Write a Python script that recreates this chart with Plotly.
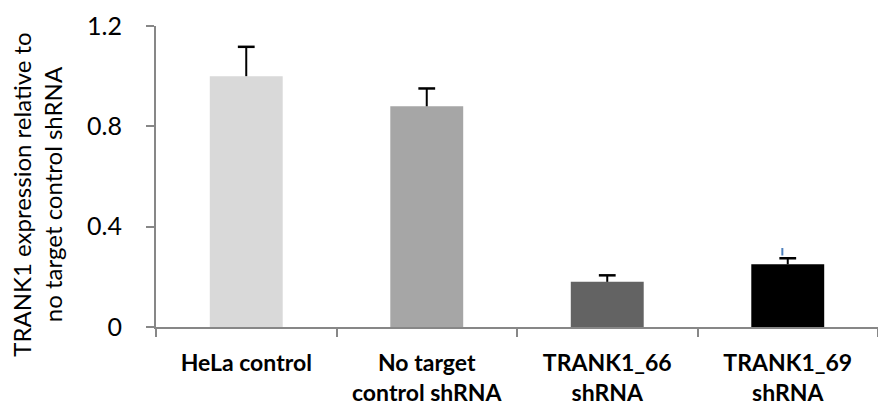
import plotly.graph_objects as go

categories = ["HeLa control", "No target<br>control shRNA", "TRANK1_66<br>shRNA", "TRANK1_69<br>shRNA"]
values = [1.0, 0.88, 0.18, 0.25]
errors_plus = [0.117, 0.071, 0.026, 0.024]
bar_colors = ["#D9D9D9", "#A6A6A6", "#636363", "#000000"]
y_ticks = [0, 0.4, 0.8, 1.2]
y_tick_labels = ["0", "0.4", "0.8", "1.2"]
y_title = "TRANK1 expression relative to<br>no target control shRNA"
# small stray blue mark above the last bar (category index, offset, y range)
stray_cat_index = 3
stray_offset = -0.03
stray_y = [0.285, 0.315]

cap_y = [v + e for v, e in zip(values, errors_plus)]

fig = go.Figure()
fig.add_trace(go.Bar(
    x=categories, y=values,
    marker=dict(color=bar_colors, line=dict(width=0)),
    error_y=dict(type="data", symmetric=False, array=errors_plus,
                 arrayminus=[0] * len(values), color="#000000",
                 thickness=2, width=0),
    hoverinfo="skip",
))
# caps of the plus-only error bars
fig.add_trace(go.Scatter(
    x=categories, y=cap_y, mode="markers",
    marker=dict(symbol="line-ew", size=12, line=dict(color="#000000", width=2.5)),
    hoverinfo="skip",
))

fig.add_shape(type="line", xref="x", yref="y",
              x0=stray_cat_index + stray_offset, x1=stray_cat_index + stray_offset,
              y0=stray_y[0], y1=stray_y[1],
              line=dict(color="#4F81BD", width=2))

fig.add_annotation(text=y_title, textangle=-90, xref="paper", yref="paper",
                   x=-0.166, y=0.44, xanchor="center", yanchor="middle",
                   showarrow=False, font=dict(family="Lato", size=24, color="#000000"))

fig.update_layout(
    width=878, height=406,
    margin=dict(l=156, r=0, t=26, b=79, autoexpand=False),
    paper_bgcolor="white", plot_bgcolor="white",
    bargap=0.596, showlegend=False,
    font=dict(family="Lato", color="#000000"),
)
fig.update_xaxes(
    automargin=False,
    showline=True, linecolor="#878787", linewidth=2,
    ticks="outside", tickson="boundaries", ticklen=8, tickcolor="#878787", tickwidth=2,
    tickfont=dict(family="Lato", size=23, color="#000000", weight="bold"),
    ticklabelstandoff=14,
    showgrid=False, zeroline=False,
)
fig.update_yaxes(
    automargin=False,
    range=[0, 1.2], tickvals=y_ticks, ticktext=y_tick_labels,
    showline=True, linecolor="#878787", linewidth=2,
    ticks="outside", ticklen=8, tickcolor="#878787", tickwidth=2,
    tickfont=dict(family="Lato", size=25, color="#000000"),
    ticklabelstandoff=19,
    showgrid=False, zeroline=False,
)

fig.write_html("out.html", config={"displayModeBar": False},
               post_script="document.body.style.margin='0';")
